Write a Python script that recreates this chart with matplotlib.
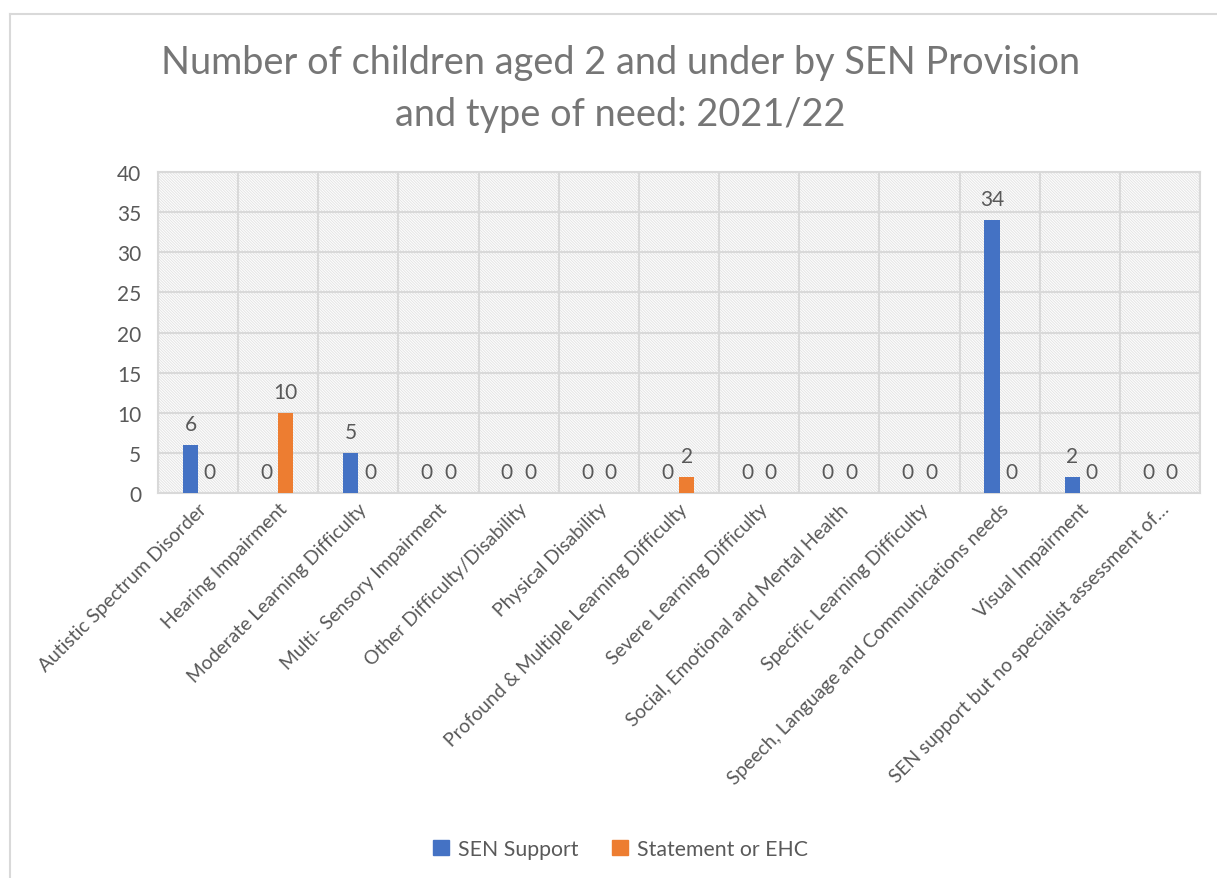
import numpy as np
import matplotlib.pyplot as plt
from matplotlib.patches import Rectangle, Patch
from matplotlib.lines import Line2D

plt.rcParams['font.family'] = ['Lato', 'DejaVu Sans']
plt.rcParams['hatch.color'] = '#e4e4e4'
plt.rcParams['hatch.linewidth'] = 0.7

# SEN data for children aged 2 and under, 2021/22
needs = [
    'Autistic Spectrum Disorder',
    'Hearing Impairment',
    'Moderate Learning Difficulty',
    'Multi- Sensory Impairment',
    'Other Difficulty/Disability',
    'Physical Disability',
    'Profound & Multiple Learning Difficulty',
    'Severe Learning Difficulty',
    'Social, Emotional and Mental Health',
    'Specific Learning Difficulty',
    'Speech, Language and Communications needs',
    'Visual Impairment',
    'SEN support but no specialist assessment of\u2026',
]
sen_support = [6, 0, 5, 0, 0, 0, 0, 0, 0, 0, 34, 2, 0]
statement_ehc = [0, 10, 0, 0, 0, 0, 2, 0, 0, 0, 0, 0, 0]

blue = '#4472C4'
orange = '#ED7D31'
grid_col = '#d9d9d9'
text_col = '#595959'

fig = plt.figure(figsize=(12.17, 8.79), dpi=100)
ax = fig.add_axes([158 / 1217, 1 - 494 / 879, 1042 / 1217, 321 / 879])

# chart frame
fig.add_artist(Line2D([10 / 1217, 10 / 1217], [0, 1 - 15 / 879],
                      transform=fig.transFigure, color=grid_col, lw=1.5))
fig.add_artist(Line2D([10 / 1217, 1], [1 - 15 / 879, 1 - 15 / 879],
                      transform=fig.transFigure, color=grid_col, lw=1.5))

# hatched plot area
ax.patch.set_visible(False)
ax.add_patch(Rectangle((0, 0), 1, 1, transform=ax.transAxes, facecolor='white',
                       edgecolor='#e4e4e4', hatch='\\' * 12, lw=0, zorder=0))

x = np.arange(len(needs))
w = 0.19
ax.bar(x - w / 2, sen_support, w, color=blue, label='SEN Support', zorder=3)
ax.bar(x + w / 2, statement_ehc, w, color=orange, label='Statement or EHC', zorder=3)

for xi, v in zip(x - w / 2, sen_support):
    dx = -3 if v == 0 else 0
    ax.annotate(str(v), (xi, v), xytext=(dx, 8), textcoords='offset points',
                ha='center', va='bottom', fontsize=15, color=text_col, zorder=4)
for xi, v in zip(x + w / 2, statement_ehc):
    dx = 3 if v == 0 else 0
    ax.annotate(str(v), (xi, v), xytext=(dx, 8), textcoords='offset points',
                ha='center', va='bottom', fontsize=15, color=text_col, zorder=4)

ax.set_xlim(-0.5, len(needs) - 0.5)
ax.set_ylim(0, 40)
ax.set_yticks(range(0, 41, 5))
ax.tick_params(axis='y', length=0, labelsize=15, labelcolor=text_col, pad=12)

# category gridlines
for b in np.arange(-0.5, len(needs), 1):
    ax.axvline(b, color=grid_col, lw=1.5, zorder=1)
ax.yaxis.grid(True, color=grid_col, lw=1.5, zorder=1)
ax.set_axisbelow(True)
for s in ax.spines.values():
    s.set_color(grid_col)
    s.set_linewidth(1.5)

ax.set_xticks(x)
ax.set_xticklabels(needs, rotation=45, ha='right', rotation_mode='anchor',
                   fontsize=13.9, color=text_col)
ax.tick_params(axis='x', length=0, pad=5)

fig.text(0.51, 1 - 63 / 879, 'Number of children aged 2 and under by SEN Provision',
         ha='center', va='center', fontsize=27.3, color='#767676')
fig.text(0.51, 1 - 115 / 879, 'and type of need: 2021/22',
         ha='center', va='center', fontsize=27.3, color='#767676')

handles = [Patch(color=blue, label='SEN Support'),
           Patch(color=orange, label='Statement or EHC')]
fig.legend(handles=handles, loc='center', bbox_to_anchor=(0.51, 1 - 850 / 879),
           ncol=2, frameon=False, fontsize=15.3, handlelength=0.75, handleheight=0.75,
           columnspacing=1.6, handletextpad=0.4, labelcolor=text_col)

fig.savefig('out.png', dpi=100)
